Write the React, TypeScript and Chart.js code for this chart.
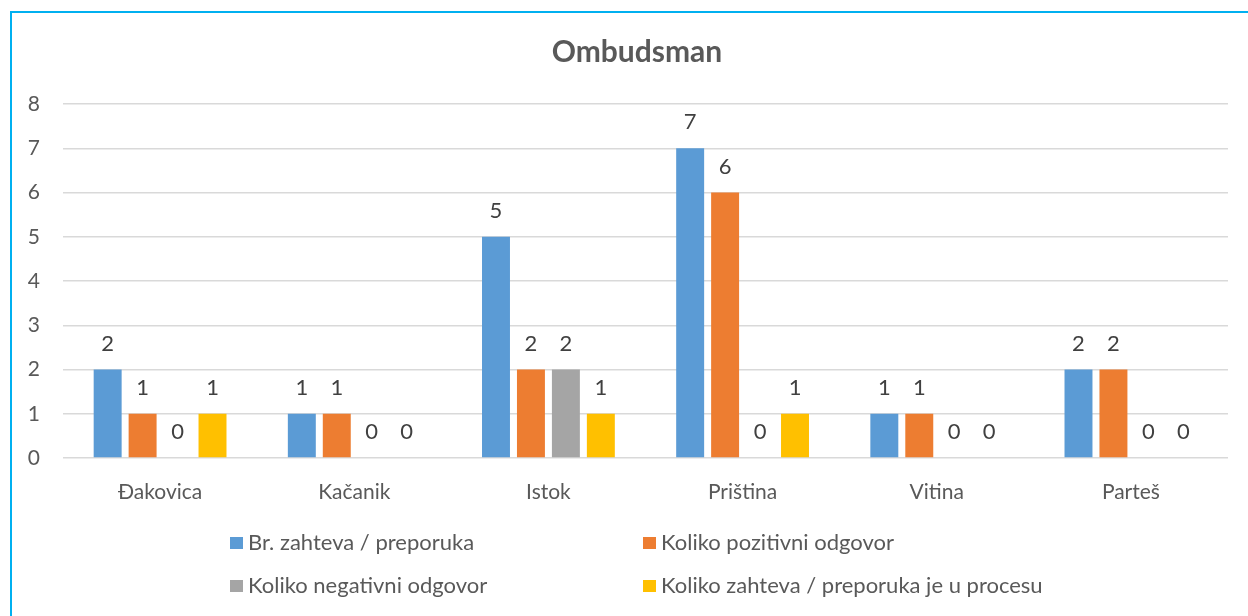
import React, { useEffect, useRef } from "react";
import { Chart, registerables } from "chart.js";

Chart.register(...registerables);

const categories = ["Đakovica", "Kačanik", "Istok", "Priština", "Vitina", "Parteš"];
const seriesNames = [
  "Br. zahteva / preporuka",
  "Koliko pozitivni odgovor",
  "Koliko negativni odgovor",
  "Koliko zahteva / preporuka je u procesu",
];
const requests = [2, 1, 5, 7, 1, 2];
const positive = [1, 1, 2, 6, 1, 2];
const negative = [0, 0, 2, 0, 0, 0];
const inProcess = [1, 0, 1, 1, 0, 0];
const seriesColors = ["#5B9BD5", "#ED7D31", "#A5A5A5", "#FFC000"];
const yMin = 0;
const yMax = 8;
const yStep = 1;
const chartTitle = "Ombudsman";

const FONT = "Lato, 'Open Sans', sans-serif";
const TEXT = "#595959";

const valueLabels = {
  id: "valueLabels",
  afterDatasetsDraw(chart: any) {
    const ctx = chart.ctx;
    ctx.save();
    ctx.font = `22px ${FONT}`;
    ctx.fillStyle = "#404040";
    ctx.textAlign = "center";
    ctx.textBaseline = "middle";
    chart.data.datasets.forEach((ds: any, i: number) => {
      const meta = chart.getDatasetMeta(i);
      meta.data.forEach((el: any, j: number) => {
        ctx.fillText(String(ds.data[j]), el.x, el.y - 26);
      });
    });
    ctx.restore();
  },
};

const titleAndLegend = {
  id: "titleAndLegend",
  afterDraw(chart: any) {
    const ctx = chart.ctx;
    ctx.save();
    ctx.font = `bold 30px ${FONT}`;
    ctx.fillStyle = TEXT;
    ctx.textAlign = "center";
    ctx.textBaseline = "middle";
    ctx.fillText(chartTitle, 637, 52);

    const cols = [230, 643];
    const rows = [543, 586];
    ctx.font = `22px ${FONT}`;
    ctx.textAlign = "left";
    chart.data.datasets.forEach((ds: any, i: number) => {
      const x = cols[i % 2];
      const y = rows[Math.floor(i / 2)];
      ctx.fillStyle = ds.backgroundColor;
      ctx.fillRect(x, y - 6, 13, 12);
      ctx.fillStyle = TEXT;
      ctx.fillText(ds.label, x + 18, y);
    });
    ctx.restore();
  },
};

export default function App() {
  const ref = useRef<HTMLCanvasElement | null>(null);

  useEffect(() => {
    if (!ref.current) return;
    const series = [requests, positive, negative, inProcess];
    const chart = new Chart(ref.current, {
      type: "bar",
      data: {
        labels: categories,
        datasets: series.map((d, i) => ({
          label: seriesNames[i],
          data: d,
          backgroundColor: seriesColors[i],
          borderWidth: 0,
          categoryPercentage: 0.72,
          barPercentage: 0.8,
        })),
      },
      options: {
        responsive: false,
        animation: false,
        maintainAspectRatio: false,
        layout: { padding: { left: 0, right: 20, top: 104, bottom: 0 } },
        plugins: {
          legend: { display: false },
          title: { display: false },
          tooltip: { enabled: false },
        },
        scales: {
          x: {
            grid: { display: false },
            border: { display: false },
            ticks: { color: TEXT, font: { family: FONT, size: 21 }, padding: 14 },
            afterFit: (s: any) => {
              s.height = 158;
            },
          },
          y: {
            min: yMin,
            max: yMax,
            ticks: { stepSize: yStep, color: TEXT, font: { family: FONT, size: 21 }, padding: 23 },
            grid: { color: "#D9D9D9", lineWidth: 1.5, drawTicks: false },
            border: { display: false },
            afterFit: (s: any) => {
              s.width = 63;
            },
          },
        },
      },
      plugins: [valueLabels, titleAndLegend],
    });
    return () => chart.destroy();
  }, []);

  return (
    <div style={{ position: "fixed", left: 0, top: 0, width: 1248, height: 616, background: "#fff" }}>
      <div
        style={{
          position: "absolute",
          left: 10,
          top: 11,
          width: 1300,
          height: 700,
          borderTop: "2px solid #00B0F0",
          borderLeft: "2px solid #00B0F0",
          boxSizing: "border-box",
        }}
      />
      <canvas ref={ref} width={1248} height={616} style={{ position: "absolute", left: 0, top: 0 }} />
    </div>
  );
}
